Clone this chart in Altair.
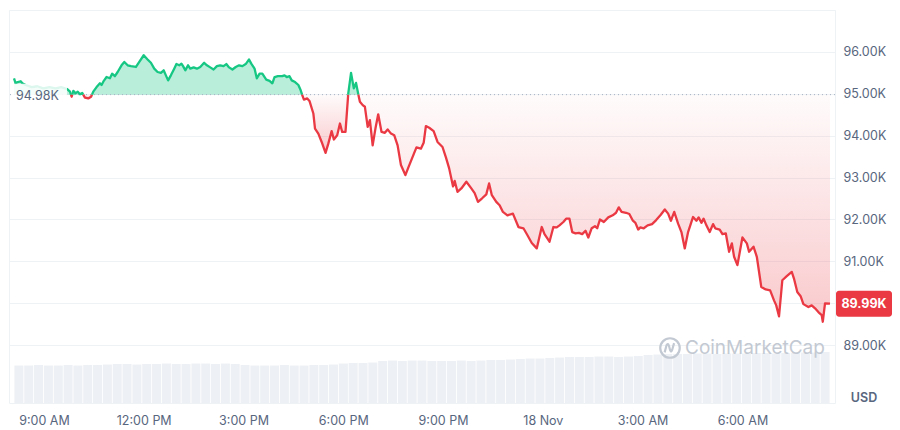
import altair as alt
import pandas as pd

# ---------------- data ----------------
# time in minutes since 00:00 on 17 Nov
minutes = [486,489,493,498,501,507,518,528,539,550,
           561,571,582,587,590,593,597,601,605,609,
           614,620,625,629,635,641,644,648,653,659,
           663,668,673,680,685,691,697,706,712,720,
           727,733,739,745,751,756,760,764,769,775,
           779,784,788,791,795,800,804,810,816,822,
           829,834,840,846,852,858,864,869,874,880,
           886,892,898,904,910,914,920,924,929,934,
           941,947,952,956,962,970,974,978,983,987,
           993,999,1003,1006,1009,1015,1019,1026,1029,1035,
           1041,1048,1053,1059,1063,1069,1074,1078,1084,1089,
           1094,1099,1103,1108,1110,1115,1119,1124,1128,1133,
           1138,1143,1149,1155,1160,1166,1172,1178,1184,1192,
           1198,1204,1212,1220,1225,1229,1235,1243,1250,1259,
           1265,1271,1278,1281,1286,1293,1302,1310,1317,1323,
           1330,1338,1343,1348,1356,1362,1368,1376,1386,1396,
           1405,1412,1420,1429,1438,1443,1452,1459,1465,1470,
           1477,1482,1488,1493,1499,1505,1511,1517,1522,1528,
           1534,1538,1543,1550,1558,1566,1572,1577,1582,1590,
           1596,1602,1607,1612,1616,1622,1629,1637,1644,1652,
           1660,1666,1671,1677,1684,1690,1696,1702,1711,1717,
           1721,1726,1730,1735,1741,1747,1751,1759,1764,1770,
           1776,1781,1785,1791,1800,1808,1812,1820,1826,1834,
           1842,1850,1857,1861,1866,1872,1880,1889,1893,1899,
           1905,1910,1919,1925,1931,1937,1943,1945,1949,1958]

prices = [95370,95250,95280,95300,95250,95210,95160,95180,95130,95160,
          95130,95160,95110,95050,94930,95070,95010,95050,94990,95020,
          94910,94890,94930,95050,95160,95250,95210,95310,95400,95370,
          95480,95420,95520,95680,95760,95680,95660,95640,95760,95920,
          95820,95740,95600,95520,95500,95560,95440,95320,95440,95600,
          95710,95680,95720,95660,95560,95680,95600,95630,95600,95640,
          95740,95680,95630,95580,95660,95680,95660,95710,95630,95580,
          95640,95680,95660,95710,95820,95720,95600,95370,95480,95480,
          95340,95310,95250,95400,95420,95420,95440,95400,95420,95320,
          95280,95210,95090,94970,94860,94890,94830,94530,94170,94050,
          93850,93590,93810,94110,93910,94010,94290,94090,94090,95010,
          95500,95130,95260,94930,94810,94730,94690,94210,94370,93770,
          94170,94510,94090,94070,94150,94050,94010,93770,93300,93060,
          93260,93460,93720,93690,93830,94230,94190,94110,93850,93730,
          93490,93220,92790,92920,92660,92740,92900,92760,92630,92420,
          92500,92600,92860,92580,92420,92340,92180,92100,92140,91820,
          91790,91630,91440,91310,91820,91650,91470,91820,91810,91860,
          91940,92020,92020,91700,91670,91680,91650,91730,91570,91790,
          91840,91790,92000,91940,92050,92100,92160,92290,92180,92160,
          92130,91980,91920,91760,91810,91790,91860,91890,91980,92100,
          92240,92140,91970,92180,91900,91700,91310,91700,92060,91970,
          92050,91920,92020,91860,91700,91890,91790,91760,91650,91670,
          91230,91430,91110,90910,91570,91430,91230,91350,91110,90390,
          90330,90310,90070,89950,89690,90550,90650,90750,90590,90270,
          90170,89980,89910,89950,89880,89790,89720,89560,90000,89990]

# 24h volume (billions USD), equally spaced bars across the period
volumes = [75,75,76,75,75,76,75,76,76,
           77,78,78,77,78,78,79,78,78,
           79,79,78,79,78,
           76,75,75,75,76,75,75,76,76,77,
           79,80,80,81,
           84,85,84,85,85,84,
           84,84,85,84,85,86,86,87,88,
           89,89,90,91,
           92,92,92,93,93,92,93,94,96,97,
           98,98,98,99,99,98,99,99,99,100,100,99,100,100,101,101,102]

base_price = 94980
tick_minutes = [540, 720, 900, 1080, 1260, 1440, 1620, 1800]
tick_labels = ["9:00 AM", "12:00 PM", "3:00 PM", "6:00 PM", "9:00 PM",
               "18 Nov", "3:00 AM", "6:00 AM"]
y_ticks = [89000, 90000, 91000, 92000, 93000, 94000, 95000, 96000, 97000]

# ---------------- styling ----------------
W, H = 826, 393
GREEN = "#16c784"
RED = "#ea3943"
GRAY = "#58667e"
GRID = "#eff2f5"
VOLC = "#edf0f4"
FONT = "Inter"
x_dom = [minutes[0], minutes[-1]]
y_dom = [87620, 97000]
ppp = (y_dom[1] - y_dom[0]) / H  # price units per pixel

# ---------------- split series at the baseline ----------------
def sgn(p):
    return "up" if p >= base_price else "down"

rows = []
seg = 0
pt, pp = minutes[0], prices[0]
cur = sgn(pp)
rows.append(dict(t=pt, price=pp, sign=cur, seg=seg))
for t, p in zip(minutes[1:], prices[1:]):
    s = sgn(p)
    if s != cur:
        tc = pt + (base_price - pp) / (p - pp) * (t - pt)
        rows.append(dict(t=tc, price=base_price, sign=cur, seg=seg))
        seg += 1
        cur = s
        rows.append(dict(t=tc, price=base_price, sign=cur, seg=seg))
    rows.append(dict(t=t, price=p, sign=cur, seg=seg))
    pt, pp = t, p
df = pd.DataFrame(rows)

span = x_dom[1] - x_dom[0]
vol_df = pd.DataFrame({
    "vt": [x_dom[0] + (i + 0.5) * span / len(volumes) for i in range(len(volumes))],
    "vol": volumes,
})
base_df = pd.DataFrame({"b": [base_price],
                        "hi": [base_price + 11 * ppp],
                        "lo": [base_price - 11 * ppp],
                        "lab": [f"{base_price/1000:.2f}K"]})
last = prices[-1]
last_df = pd.DataFrame({"p": [last], "hi": [last + 13 * ppp], "lo": [last - 13 * ppp],
                        "lab": [f"{last/1000:.2f}K"]})

# ---------------- encodings ----------------
label_expr = "[" + ",".join(f"'{s}'" for s in tick_labels) + "][indexof([" + \
    ",".join(str(v) for v in tick_minutes) + "], datum.value)]"
x_scale = alt.Scale(domain=x_dom, nice=False, zero=False)
x_axis = alt.Axis(values=tick_minutes, labelExpr=label_expr, grid=False, domain=False,
                  ticks=False, labelPadding=11, labelColor=GRAY, labelFontSize=12.5,
                  labelFont=FONT, title=None, labelOverlap=False)
y_scale = alt.Scale(domain=y_dom, nice=False, zero=False)
y_axis = alt.Axis(values=y_ticks, orient="right", grid=True, gridColor=GRID, domain=False,
                  ticks=False, labelPadding=8, labelColor=GRAY, labelFontSize=12.5,
                  labelFont=FONT, title=None,
                  labelExpr="(datum.value == 97000 || datum.value == 90000) ? '' : format(datum.value/1000, '.2f') + 'K'")

X = alt.X("t:Q", scale=x_scale, axis=x_axis)
Y = alt.Y("price:Q", scale=y_scale, axis=y_axis)

# ---------------- layers ----------------
volume = alt.Chart(vol_df).mark_bar(color=VOLC, size=9).encode(
    x=alt.X("vt:Q", scale=x_scale, axis=x_axis),
    y=alt.Y("vol:Q", scale=alt.Scale(domain=[0, 786]), axis=None),
)

green_area = alt.Chart(df).transform_filter("datum.sign == 'up'").mark_area(
    color=GREEN, opacity=0.3).encode(x=X, y=Y, y2=alt.datum(base_price), detail="seg:N")

red_grad = alt.Gradient(
    gradient="linear",
    stops=[alt.GradientStop(color="rgba(234,57,67,0.02)", offset=0),
           alt.GradientStop(color="rgba(234,57,67,0.27)", offset=1)],
    x1=1, x2=1, y1=0, y2=1)
red_area = alt.Chart(df).transform_filter("datum.sign == 'down'").mark_area(
    color=red_grad).encode(x=X, y=Y, y2=alt.datum(base_price), detail="seg:N")

base_rule = alt.Chart(base_df).mark_rule(color="#a7b1c2", strokeDash=[1, 3], strokeWidth=1).encode(
    y=alt.Y("b:Q", scale=y_scale, axis=y_axis))

line = alt.Chart(df).mark_line(strokeWidth=2.3, strokeJoin="round").encode(
    x=X, y=Y, detail="seg:N",
    color=alt.Color("sign:N", scale=alt.Scale(domain=["up", "down"], range=[GREEN, RED]), legend=None))

label_box = alt.Chart(base_df).mark_rect(color="white", opacity=0.85).encode(
    x=alt.value(2), x2=alt.value(58),
    y=alt.Y("hi:Q", scale=y_scale, axis=y_axis), y2="lo:Q")
label_text = alt.Chart(base_df).mark_text(align="left", baseline="middle", fontSize=12.5,
                                          font=FONT, color=GRAY, dy=1).encode(
    x=alt.value(7), y=alt.Y("b:Q", scale=y_scale, axis=y_axis), text="lab:N")

badge = alt.Chart(last_df).mark_rect(color=RED, cornerRadius=3).encode(
    x=alt.value(W + 1), x2=alt.value(W + 57),
    y=alt.Y("hi:Q", scale=y_scale, axis=y_axis), y2="lo:Q")
badge_text = alt.Chart(last_df).mark_text(align="center", baseline="middle", fontSize=12.5,
                                          font=FONT, fontWeight="bold", color="white").encode(
    x=alt.value(W + 29), y=alt.Y("p:Q", scale=y_scale, axis=y_axis), text="lab:N")

usd = alt.Chart(base_df).mark_text(align="center", baseline="middle", fontSize=12.5, font=FONT,
                                   fontWeight=600, color=GRAY).encode(
    x=alt.value(W + 29), y=alt.value(H - 5), text=alt.value("USD"))

wm_text = alt.Chart(base_df).mark_text(align="left", baseline="middle", fontSize=19, font=FONT,
                                       color="#c3c9d2").encode(
    x=alt.value(676), y=alt.value(338), text=alt.value("CoinMarketCap"))
wm_circle = alt.Chart(base_df).mark_point(shape="circle", filled=False, size=380, strokeWidth=2.2,
                                          color="#c3c9d2", opacity=1).encode(
    x=alt.value(661), y=alt.value(338))
wm_m = alt.Chart(base_df).mark_point(
    shape="M-0.55,0.45 L-0.35,-0.3 Q-0.22,-0.55 -0.1,-0.2 L0.02,0.25 Q0.12,0.5 0.22,0.2 L0.42,-0.5",
    filled=False, size=380, strokeWidth=2.2, color="#c3c9d2", opacity=1).encode(
    x=alt.value(661), y=alt.value(338))

price_layers = alt.layer(wm_circle, wm_m, wm_text, green_area, red_area, base_rule, line,
                         label_box, label_text, badge, badge_text, usd)

chart = alt.layer(volume, price_layers).resolve_scale(y="independent").properties(
    width=W, height=H, padding={"left": 0, "top": 2, "right": 0, "bottom": 0}
).configure_view(stroke=GRID, strokeWidth=1)

chart.save("out.html", embed_options={"renderer": "svg", "actions": False})
